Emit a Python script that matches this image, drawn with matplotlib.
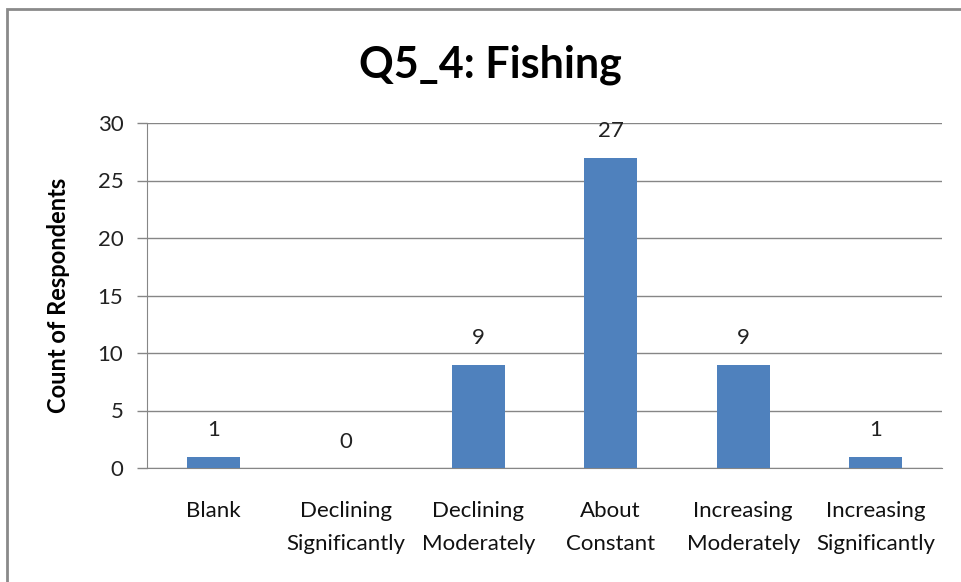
import matplotlib.pyplot as plt
from matplotlib.patches import Rectangle

categories = ['Blank', 'Declining\nSignificantly', 'Declining\nModerately',
              'About\nConstant', 'Increasing\nModerately', 'Increasing\nSignificantly']
counts = [1, 0, 9, 27, 9, 1]
yticks = [0, 5, 10, 15, 20, 25, 30]

plt.rcParams['font.family'] = ['Lato', 'DejaVu Sans']

fig = plt.figure(figsize=(9.62, 5.82), dpi=100)
ax = fig.add_axes([147 / 962, 1 - 468 / 582, 795 / 962, 345 / 582])

x = range(len(categories))
ax.bar(x, counts, width=0.4, color='#4F81BD', zorder=3)
for i, v in zip(x, counts):
    ax.annotate(str(v), (i, v), xytext=(0, 19), textcoords='offset points',
                ha='center', va='center', fontsize=16, color='#222222')

ax.set_xlim(-0.5, len(categories) - 0.5)
ax.set_ylim(0, 30)
ax.set_yticks(yticks)
ax.set_xticks(list(x))
ax.set_xticklabels(categories, fontsize=16, color='#111111', linespacing=1.8)
ax.tick_params(axis='x', length=0, pad=24)
ax.tick_params(axis='y', length=7, width=1, color='#868686', labelsize=16,
               labelcolor='#222222', pad=10)
ax.grid(axis='y', color='#868686', linewidth=1, zorder=0)
for s in ['top', 'right']:
    ax.spines[s].set_visible(False)
ax.spines['left'].set_color('#868686')
ax.spines['bottom'].set_color('#868686')
ax.set_ylabel('Count of Respondents', fontsize=17, fontweight='bold')
ax.yaxis.set_label_coords(-(147 - 70) / 795, 0.5)

fig.text(490 / 962, 1 - 65 / 582, 'Q5_4: Fishing', ha='center', va='center',
         fontsize=31, fontweight='bold')

# chart border (extends past the right and bottom edges)
fig.patches.append(Rectangle((7 / 962, -0.05), 1.0, 1 - 9 / 582 + 0.05,
                             transform=fig.transFigure, fill=False,
                             edgecolor='#8a8a8a', linewidth=2))

fig.savefig('out.png', dpi=100)
